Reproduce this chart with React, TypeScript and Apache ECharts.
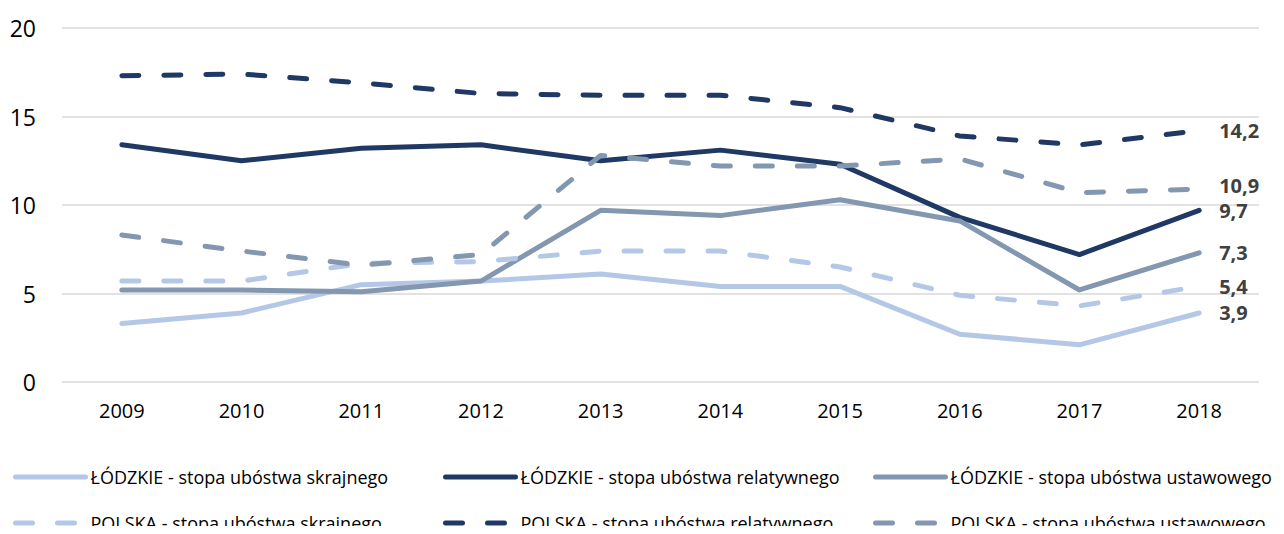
import React, { useEffect, useRef } from "react";
import * as echarts from "echarts";

const years = ["2009", "2010", "2011", "2012", "2013", "2014", "2015", "2016", "2017", "2018"];

const lodzSkrajne = [3.3, 3.9, 5.5, 5.7, 6.1, 5.4, 5.4, 2.7, 2.1, 3.9];
const lodzRelatywne = [13.4, 12.5, 13.2, 13.4, 12.5, 13.1, 12.3, 9.3, 7.2, 9.7];
const lodzUstawowe = [5.2, 5.2, 5.1, 5.7, 9.7, 9.4, 10.3, 9.1, 5.2, 7.3];
const polskaSkrajne = [5.7, 5.7, 6.7, 6.8, 7.4, 7.4, 6.5, 4.9, 4.3, 5.4];
const polskaRelatywne = [17.3, 17.4, 16.9, 16.3, 16.2, 16.2, 15.5, 13.9, 13.4, 14.2];
const polskaUstawowe = [8.3, 7.4, 6.6, 7.2, 12.8, 12.2, 12.2, 12.6, 10.7, 10.9];

const seriesNames = [
  "ŁÓDZKIE - stopa ubóstwa skrajnego",
  "ŁÓDZKIE - stopa ubóstwa relatywnego",
  "ŁÓDZKIE - stopa ubóstwa ustawowego",
  "POLSKA - stopa ubóstwa skrajnego",
  "POLSKA - stopa ubóstwa relatywnego",
  "POLSKA - stopa ubóstwa ustawowego",
];

const LIGHT = "#b4c7e7";
const NAVY = "#203864";
const GREY = "#8497b0";
const FONT = "'Open Sans', sans-serif";

export default function App() {
  const ref = useRef<HTMLDivElement>(null);

  useEffect(() => {
    if (!ref.current) return;
    const chart = echarts.init(ref.current, undefined, { renderer: "svg" });

    const fmt = (p: any) => String(p.value).replace(".", ",");
    const mk = (name: string, data: number[], color: string, dashed: boolean, labelOffset: number[] = [0, 0]) => ({
      name,
      type: "line",
      data,
      symbol: "none",
      showSymbol: false,
      z: dashed ? 3 : 2,
      lineStyle: {
        color,
        width: 5,
        type: dashed ? [17, 25] : "solid",
        cap: "round",
        join: "round",
      },
      itemStyle: { color },
      endLabel: {
        show: true,
        formatter: fmt,
        distance: 20,
        offset: labelOffset,
        color: "#404040",
        fontWeight: "bold",
        fontSize: 20,
        fontFamily: FONT,
      },
    });

    const legendPos = [
      [13, 468],
      [443, 468],
      [873, 468],
      [13, 514],
      [443, 514],
      [873, 514],
    ];

    chart.setOption({
      animation: false,
      backgroundColor: "#ffffff",
      grid: { left: 62, right: 25, top: 28, bottom: 152, containLabel: false },
      xAxis: {
        type: "category",
        data: years,
        boundaryGap: true,
        axisLine: { show: false },
        axisTick: { show: false },
        axisLabel: { color: "#000000", fontSize: 20, fontFamily: FONT, margin: 18 },
      },
      yAxis: {
        type: "value",
        min: 0,
        max: 20,
        interval: 5,
        axisLine: { show: false },
        axisTick: { show: false },
        axisLabel: { color: "#000000", fontSize: 23, fontFamily: FONT, margin: 26 },
        splitLine: { lineStyle: { color: "#d9d9d9", width: 1.5 } },
      },
      legend: seriesNames.map((n, i) => ({
        data: [n],
        left: legendPos[i][0],
        top: legendPos[i][1],
        itemWidth: 70,
        itemHeight: 14,
        padding: 0,
        itemStyle: { opacity: 0 },
        lineStyle: { width: 5, cap: "round" },
        textStyle: { color: "#000000", fontSize: 18, fontFamily: FONT },
      })),
      series: [
        mk(seriesNames[0], lodzSkrajne, LIGHT, false),
        mk(seriesNames[1], lodzRelatywne, NAVY, false),
        mk(seriesNames[2], lodzUstawowe, GREY, false),
        mk(seriesNames[3], polskaSkrajne, LIGHT, true),
        mk(seriesNames[4], polskaRelatywne, NAVY, true),
        mk(seriesNames[5], polskaUstawowe, GREY, true, [0, -4]),
      ],
    });

    return () => chart.dispose();
  }, []);

  return <div ref={ref} style={{ width: 1284, height: 534, margin: -8 }} />;
}
